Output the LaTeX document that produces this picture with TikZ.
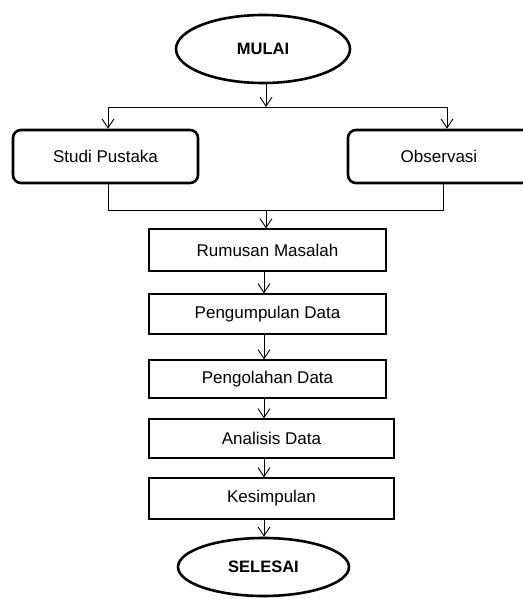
\documentclass[tikz,border=0pt]{standalone}
\usepackage{fontspec}
\setmainfont{Liberation Sans}
\usetikzlibrary{shapes.geometric,arrows.meta}
\begin{document}
\begin{tikzpicture}[x=1pt,y=-1pt,
  every node/.style={font=\fontsize{17}{20}\selectfont, inner sep=0pt},
  term/.style={draw, ellipse, line width=2.6pt, font=\fontsize{16.5}{20}\selectfont\bfseries},
  sidebox/.style={draw, rounded corners=8pt, line width=2.6pt, minimum height=53pt},
  stepbox/.style={draw, line width=1.2pt, fill=white},
  conn/.style={line width=0.9pt},
  arr/.style={conn, -{Straight Barb[length=9pt,width=12pt,line width=0.9pt]}}]
\useasboundingbox (0,0) rectangle (522,599);
\node[term, minimum width=174pt, minimum height=68pt] (mulai) at (263,49) {MULAI};
\node[sidebox, minimum width=185pt] (studi) at (105.5,156.5) {Studi Pustaka};
\node[sidebox, minimum width=182pt] (obs) at (439,156.5) {Observasi};
\node[stepbox, minimum width=237pt, minimum height=42pt] (rumusan) at (267.5,250) {Rumusan Masalah};
\node[stepbox, minimum width=237pt, minimum height=40pt] (kumpul) at (267.5,314) {Pengumpulan Data};
\node[stepbox, minimum width=237pt, minimum height=38pt] (olah) at (267.5,379) {Pengolahan Data};
\node[stepbox, minimum width=245pt, minimum height=39pt] (analisis) at (271.5,438.5) {Analisis Data};
\node[stepbox, minimum width=245pt, minimum height=41pt] (simpul) at (271.5,498.5) {Kesimpulan};
\node[term, minimum width=171pt, minimum height=58pt] (selesai) at (263.5,567) {SELESAI};
% split
\coordinate (sc) at (266,107);
\coordinate (sl) at (108,107);
\coordinate (sr) at (447,107);
\draw[arr] (mulai.south -| sc) -- (sc);
\draw[conn] (sl) -- (sr);
\draw[arr] (sl) -- (sl |- studi.north);
\draw[arr] (sr) -- (sr |- obs.north);
% join
\coordinate (jl) at (108,210);
\coordinate (jr) at (443,210);
\coordinate (jc) at (266,210);
\draw[conn] (studi.south -| jl) -- (jl) -- (jr) -- (obs.south -| jr);
\draw[arr] (jc) -- (jc |- rumusan.north);
% chain
\coordinate (ax) at (264,0);
\draw[arr] (rumusan.south -| ax) -- (kumpul.north -| ax);
\draw[arr] (kumpul.south -| ax) -- (olah.north -| ax);
\draw[arr] (olah.south -| ax) -- (analisis.north -| ax);
\draw[arr] (analisis.south -| ax) -- (simpul.north -| ax);
\draw[arr] (simpul.south -| ax) -- (selesai.north -| ax);
\end{tikzpicture}
\end{document}
